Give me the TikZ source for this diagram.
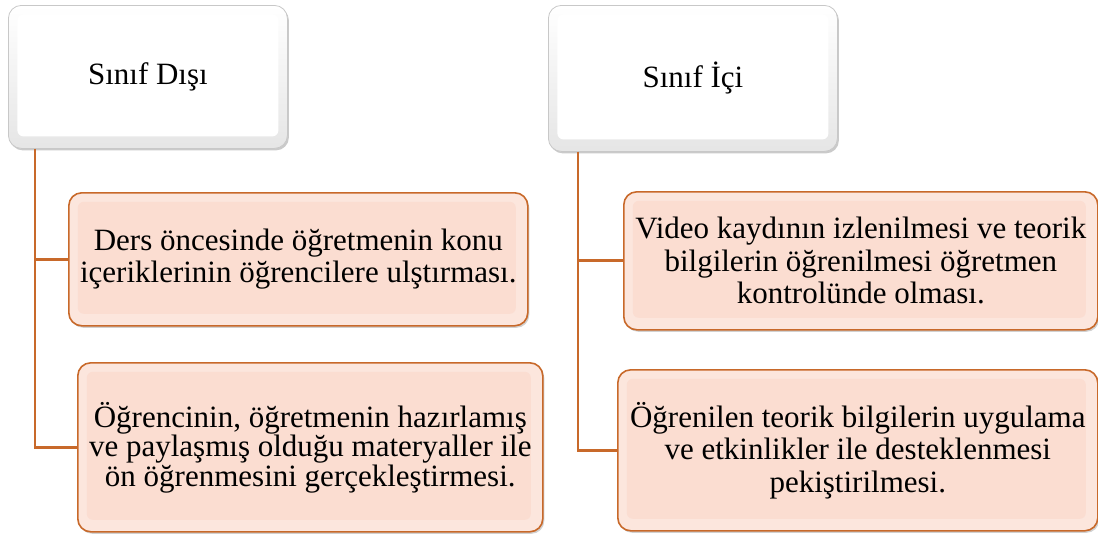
\documentclass[tikz,border=0pt]{standalone}
\usepackage{fontspec}
\setmainfont{Liberation Serif}
\usepackage{tikz}
\usetikzlibrary{positioning,shadows}
\definecolor{rust}{HTML}{C8692A}
\definecolor{peach}{HTML}{FBDDD1}
\definecolor{peachhi}{HTML}{FCE6DD}
\definecolor{greyedge}{HTML}{C8C8C8}

\begin{document}
\begin{tikzpicture}[x=1pt, y=-1pt,
  every node/.style={font=\fontsize{31}{32.5}\selectfont, align=center, inner sep=0pt, anchor=north west},
  head/.style={draw=greyedge, line width=0.8pt, rounded corners=13pt, fill=white,
    drop shadow={shadow xshift=1.5pt, shadow yshift=-2pt, opacity=0.35, fill=black!60},
    path picture={\shade[top color=white, bottom color=black!10] (path picture bounding box.north west) rectangle (path picture bounding box.south east);
      \fill[white, rounded corners=6pt] ([shift={(9pt,-9pt)}]path picture bounding box.north west) rectangle ([shift={(-9pt,12pt)}]path picture bounding box.south east);}},
  item/.style={draw=rust, line width=1.6pt, rounded corners=13pt, fill=peach,
    drop shadow={shadow xshift=1.5pt, shadow yshift=-2pt, opacity=0.3, fill=black!60},
    path picture={\fill[peachhi] (path picture bounding box.north west) rectangle (path picture bounding box.south east);
      \fill[peach, rounded corners=6pt] ([shift={(9pt,-9pt)}]path picture bounding box.north west) rectangle ([shift={(-12pt,12pt)}]path picture bounding box.south east);}},
  link/.style={draw=rust, line width=2.8pt}]
\useasboundingbox (0,0) rectangle (1098,533);
% left column
\node[head, minimum width=279pt, minimum height=143pt] (disi) at (8,5) {Sınıf Dışı};
\node[item, minimum width=459pt, minimum height=133pt] (disA) at (68,192) {Ders öncesinde öğretmenin konu\\içeriklerinin öğrencilere ulştırması.};
\node[item, minimum width=465pt, minimum height=169pt, font=\fontsize{31}{29.5}\selectfont] (disB) at (77,362) {Öğrencinin, öğretmenin hazırlamış\\ve paylaşmış olduğu materyaller ile\\ön öğrenmesini gerçekleştirmesi.};
% right column
\node[head, minimum width=289pt, minimum height=146pt] (ici) at (548,5) {Sınıf İçi};
\node[item, minimum width=474pt, minimum height=138pt] (iciA) at (623,191) {Video kaydının izlenilmesi ve teorik\\bilgilerin öğrenilmesi öğretmen\\kontrolünde olması.};
\node[item, minimum width=480pt, minimum height=161pt] (iciB) at (617,369) {Öğrenilen teorik bilgilerin uygulama\\ve etkinlikler ile desteklenmesi\\pekiştirilmesi.};
% connectors
\draw[link] ([xshift=27pt]disi.south west) |- (disA.west);
\draw[link] ([xshift=27pt]disi.south west) |- (disB.west);
\draw[link] ([xshift=30pt]ici.south west) |- (iciA.west);
\draw[link] ([xshift=30pt]ici.south west) |- (iciB.west);
\end{tikzpicture}
\end{document}
